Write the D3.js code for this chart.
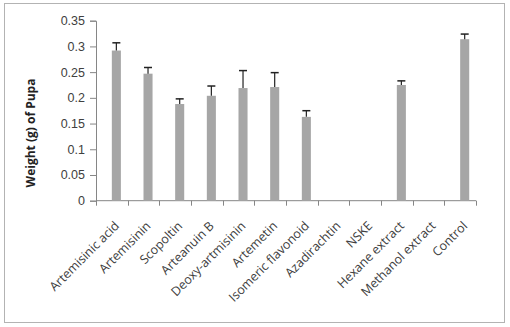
<!DOCTYPE html>
<html>
<head>
<meta charset="utf-8">
<script src="https://cdn.jsdelivr.net/npm/d3@7"></script>
<style>
  html, body { margin: 0; padding: 0; background: #fff; }
  svg { display: block; font-family: "Open Sans", "Liberation Sans", sans-serif; }
</style>
</head>
<body>
<svg id="chart" width="510" height="327"></svg>
<script>
// Pupa weight per treatment (g), with upper error bars
const categories = ["Artemisinic acid", "Artemisinin", "Scopoltin", "Arteanuin B", "Deoxy-artmisinin",
  "Artemetin", "Isomeric flavonoid", "Azadirachtin", "NSKE", "Hexane extract", "Methanol extract", "Control"];
const means = [0.292, 0.247, 0.188, 0.204, 0.219, 0.221, 0.163, null, null, 0.225, null, 0.314];
const errs  = [0.015, 0.012, 0.010, 0.019, 0.034, 0.028, 0.012, null, null, 0.008, null, 0.010];
const yTicks = [0, 0.05, 0.1, 0.15, 0.2, 0.25, 0.3, 0.35];

const svg = d3.select("#chart");
const W = 510, H = 327;
const m = {left: 96, right: 34, top: 20.7, bottom: 126.3};

// outer frame
svg.append("rect").attr("x", 4.5).attr("y", 3.5).attr("width", 500).attr("height", 319)
  .attr("fill", "none").attr("stroke", "#b3b3b3").attr("stroke-width", 1);

const x = d3.scaleBand().domain(categories).range([m.left, W - m.right]);
const y = d3.scaleLinear().domain([0, 0.35]).range([H - m.bottom, m.top]);
const bw = x.bandwidth();
const barW = bw / 3.5; // excel-ish gap with an empty companion series

const g = svg.append("g");

// y axis
const yAxis = g.append("g").attr("transform", `translate(${m.left},0)`)
  .call(d3.axisLeft(y).tickValues(yTicks).tickSize(6).tickPadding(5).tickFormat(d => d3.format("")(+d.toFixed(2))));
yAxis.select(".domain").attr("stroke", "#868686");
yAxis.selectAll(".tick line").attr("stroke", "#868686");
yAxis.selectAll(".tick text").attr("fill", "#404040").style("font-size", "12.5px");

// x axis with ticks at band edges
const xAxis = g.append("g").attr("transform", `translate(0,${y(0)})`);
xAxis.append("line").attr("x1", m.left).attr("x2", W - m.right).attr("stroke", "#868686");
const edges = categories.map(c => x(c)).concat([x(categories[categories.length - 1]) + bw]);
xAxis.selectAll("line.tk").data(edges).join("line").attr("class", "tk")
  .attr("x1", d => Math.round(d) + 0.5).attr("x2", d => Math.round(d) + 0.5)
  .attr("y1", 0).attr("y2", 5).attr("stroke", "#868686");
xAxis.selectAll("text").data(categories).join("text")
  .attr("transform", d => `translate(${x(d) + bw / 2 + 8},${26}) rotate(-45)`)
  .attr("text-anchor", "end")
  .attr("fill", "#404040").style("font-size", "12.5px")
  .text(d => d);

// bars
const rows = categories.map((c, i) => ({c, v: means[i], e: errs[i]})).filter(d => d.v != null);
g.selectAll("rect.bar").data(rows).join("rect").attr("class", "bar")
  .attr("x", d => x(d.c) + bw / 2)
  .attr("width", barW)
  .attr("y", d => y(d.v))
  .attr("height", d => y(0) - y(d.v))
  .attr("fill", "#a6a6a6");

// error bars (upper only)
const eb = g.selectAll("g.err").data(rows).join("g").attr("class", "err")
  .attr("transform", d => `translate(${x(d.c) + bw / 2 + barW / 2},0)`);
eb.append("line").attr("y1", d => y(d.v)).attr("y2", d => y(d.v + d.e))
  .attr("stroke", "#222").attr("stroke-width", 1.2);
eb.append("line").attr("x1", -4).attr("x2", 4)
  .attr("y1", d => y(d.v + d.e)).attr("y2", d => y(d.v + d.e))
  .attr("stroke", "#222").attr("stroke-width", 1.5);

// y title
svg.append("text")
  .attr("transform", "translate(35,133) rotate(-90)")
  .attr("text-anchor", "middle")
  .attr("fill", "#222").style("font-size", "12px").style("font-weight", "bold")
  .text("Weight (g) of Pupa");
</script>
</body>
</html>
